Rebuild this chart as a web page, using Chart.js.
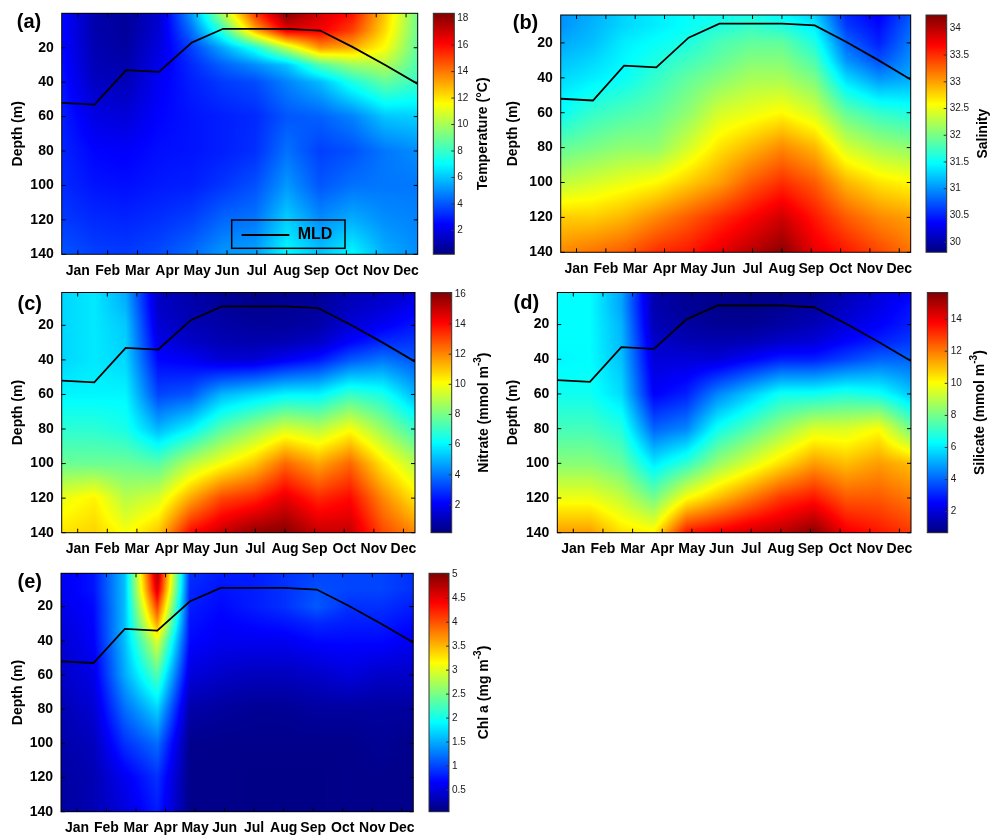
<!DOCTYPE html>
<html>
<head>
<meta charset="utf-8">
<script src="https://cdn.jsdelivr.net/npm/chart.js@4.4.1/dist/chart.umd.min.js"></script>
<style>
  html, body { margin: 0; padding: 0; background: #fff; }
  body { width: 990px; height: 835px; position: relative; overflow: hidden; }
  canvas { position: absolute; }
</style>
</head>
<body>
<canvas id="panelA" width="495" height="280" style="left:0;top:0"></canvas>
<canvas id="panelB" width="495" height="280" style="left:495px;top:0"></canvas>
<canvas id="panelC" width="495" height="280" style="left:0;top:280px"></canvas>
<canvas id="panelD" width="495" height="280" style="left:495px;top:280px"></canvas>
<canvas id="panelE" width="495" height="275" style="left:0;top:560px"></canvas>
<script>
// sampling times (fractional month, 1 = Jan) and depths of the profiles
const sampleMonths = [0.46, 1.56, 2.62, 3.72, 4.82, 5.87, 6.95, 8.01, 9.12, 10.2, 11.3, 12.39];
const depthLevels = [1, 10, 20, 30, 40, 60, 80, 100, 120, 140];
const monthLabels = ['Jan', 'Feb', 'Mar', 'Apr', 'May', 'Jun', 'Jul', 'Aug', 'Sep', 'Oct', 'Nov', 'Dec'];
const monthTicks = [1, 2, 3, 4, 5, 6, 7, 8, 9, 10, 11, 12];
const depthTicks = [20, 40, 60, 80, 100, 120, 140];

// mixed layer depth (m) at each sampling time
const mldDepth = [52, 53, 33, 34, 17, 9, 9, 9, 10, 19.5, 30, 41];

// one row per sampling time, values at depthLevels
const temperature = [
  [2.6, 2.6, 2.6, 2.7, 2.8, 3.0, 3.1, 3.2, 3.5, 4.0],
  [1.0, 1.0, 1.1, 1.2, 1.4, 2.0, 2.5, 2.8, 3.2, 3.6],
  [0.7, 0.7, 0.8, 1.0, 1.2, 1.8, 2.4, 2.7, 3.1, 3.5],
  [1.6, 1.7, 1.9, 2.1, 2.3, 2.5, 2.7, 2.9, 3.3, 3.8],
  [5.2, 4.5, 3.6, 3.2, 3.0, 2.8, 2.8, 3.0, 3.6, 4.4],
  [10.0, 8.0, 5.5, 4.2, 3.5, 3.0, 3.0, 3.4, 4.3, 5.2],
  [15.0, 13.0, 7.5, 5.0, 3.8, 3.2, 3.3, 3.9, 4.6, 5.4],
  [18.2, 16.5, 10.5, 6.0, 4.8, 4.0, 4.5, 5.2, 6.2, 7.0],
  [16.8, 16.3, 13.5, 8.5, 5.8, 4.2, 3.6, 4.0, 5.0, 6.0],
  [15.8, 15.0, 13.0, 9.8, 7.5, 4.8, 3.9, 4.5, 5.6, 7.0],
  [12.5, 12.2, 11.5, 10.2, 8.8, 6.0, 4.6, 4.6, 5.0, 5.6],
  [9.0, 8.9, 8.7, 8.4, 8.0, 6.2, 5.0, 4.6, 4.8, 5.0]
];
const salinity = [
  [31.0, 31.0, 31.1, 31.2, 31.3, 31.5, 31.9, 32.3, 32.8, 33.1],
  [31.1, 31.15, 31.2, 31.3, 31.4, 31.7, 32.0, 32.4, 32.8, 33.2],
  [31.3, 31.3, 31.4, 31.45, 31.5, 31.8, 32.1, 32.5, 32.9, 33.3],
  [31.4, 31.4, 31.5, 31.6, 31.7, 31.9, 32.1, 32.6, 33.1, 33.5],
  [31.5, 31.5, 31.6, 31.75, 31.9, 32.1, 32.4, 32.8, 33.3, 33.6],
  [31.5, 31.6, 31.8, 31.9, 32.05, 32.4, 32.7, 33.0, 33.5, 33.8],
  [31.5, 31.7, 31.9, 32.05, 32.2, 32.5, 32.9, 33.3, 33.7, 34.0],
  [31.4, 31.6, 31.9, 32.05, 32.2, 32.6, 33.1, 33.5, 33.9, 34.2],
  [31.2, 31.4, 31.6, 31.8, 32.0, 32.4, 32.9, 33.3, 33.6, 33.8],
  [30.5, 30.6, 30.8, 31.0, 31.3, 31.9, 32.4, 32.9, 33.3, 33.6],
  [30.3, 30.4, 30.5, 30.7, 31.0, 31.7, 32.2, 32.7, 33.1, 33.4],
  [30.7, 30.8, 30.9, 31.0, 31.1, 31.6, 32.1, 32.6, 33.0, 33.2]
];
const nitrate = [
  [5.5, 5.5, 5.5, 5.5, 5.5, 6.0, 6.8, 7.8, 9.8, 10.5],
  [5.8, 5.8, 5.8, 5.8, 5.8, 6.0, 6.8, 7.8, 10.3, 10.8],
  [4.8, 5.0, 5.3, 5.4, 5.5, 6.0, 6.5, 7.8, 9.0, 10.0],
  [1.2, 1.3, 1.5, 1.8, 2.2, 3.2, 5.0, 7.5, 9.5, 11.0],
  [0.8, 0.9, 1.0, 1.3, 2.0, 3.5, 6.0, 9.0, 11.5, 14.0],
  [0.5, 0.6, 0.8, 1.0, 1.5, 5.0, 7.5, 10.0, 13.0, 15.0],
  [0.3, 0.4, 0.6, 0.9, 1.5, 5.5, 8.5, 11.0, 13.5, 15.8],
  [0.4, 0.5, 0.6, 1.0, 2.0, 6.0, 9.5, 12.5, 14.5, 16.0],
  [0.5, 0.6, 0.8, 1.3, 2.5, 6.0, 9.0, 11.5, 13.5, 15.0],
  [1.0, 1.2, 1.5, 2.2, 3.5, 7.0, 10.0, 12.5, 14.0, 15.0],
  [1.2, 1.5, 2.0, 2.8, 4.0, 6.5, 8.5, 10.5, 12.0, 13.0],
  [1.5, 2.0, 2.5, 3.0, 3.5, 5.0, 7.0, 9.0, 10.5, 12.0]
];
const silicate = [
  [6.3, 6.3, 6.3, 6.3, 6.2, 6.5, 7.3, 8.3, 9.8, 11.5],
  [6.3, 6.3, 6.3, 6.3, 6.3, 6.5, 7.3, 8.3, 9.8, 11.5],
  [5.0, 5.0, 5.2, 5.3, 5.4, 5.8, 6.8, 7.8, 9.2, 10.5],
  [1.3, 1.4, 1.5, 1.8, 2.0, 2.5, 4.0, 6.0, 8.0, 10.2],
  [1.0, 1.0, 1.2, 1.5, 2.0, 3.0, 4.5, 7.0, 10.0, 13.5],
  [0.9, 0.9, 1.0, 1.4, 2.0, 4.5, 6.5, 8.5, 11.0, 14.0],
  [0.8, 0.8, 1.0, 1.5, 2.5, 5.5, 7.5, 9.5, 12.0, 14.5],
  [0.9, 1.0, 1.2, 1.8, 3.0, 6.5, 8.5, 10.5, 13.0, 14.8],
  [1.0, 1.2, 1.5, 2.0, 3.0, 6.5, 9.5, 11.5, 13.5, 15.5],
  [1.5, 1.7, 2.0, 2.6, 3.5, 6.8, 9.5, 11.0, 12.5, 14.0],
  [2.0, 2.2, 2.5, 3.0, 4.0, 6.5, 10.0, 11.5, 12.5, 13.5],
  [2.5, 2.8, 3.0, 3.4, 4.0, 5.5, 8.0, 11.0, 12.0, 13.0]
];
const chla = [
  [0.6, 0.6, 0.55, 0.5, 0.45, 0.4, 0.3, 0.25, 0.2, 0.2],
  [0.75, 0.75, 0.7, 0.68, 0.65, 0.55, 0.45, 0.35, 0.3, 0.3],
  [1.6, 1.6, 1.6, 1.6, 1.6, 1.5, 1.2, 0.9, 0.6, 0.5],
  [4.8, 4.6, 4.1, 3.6, 3.0, 2.3, 1.7, 1.2, 0.9, 0.8],
  [0.9, 0.85, 0.8, 0.75, 0.7, 0.5, 0.25, 0.12, 0.1, 0.1],
  [0.8, 0.75, 0.7, 0.65, 0.6, 0.4, 0.2, 0.1, 0.1, 0.1],
  [0.8, 0.8, 0.8, 0.7, 0.6, 0.35, 0.15, 0.1, 0.08, 0.08],
  [0.9, 0.9, 0.9, 0.75, 0.6, 0.35, 0.15, 0.1, 0.08, 0.08],
  [1.0, 1.05, 1.1, 0.85, 0.7, 0.4, 0.2, 0.1, 0.08, 0.08],
  [1.0, 1.0, 0.9, 0.8, 0.7, 0.5, 0.2, 0.1, 0.1, 0.1],
  [1.0, 1.0, 0.9, 0.8, 0.7, 0.4, 0.2, 0.15, 0.1, 0.1],
  [0.9, 0.9, 0.8, 0.7, 0.6, 0.4, 0.2, 0.1, 0.1, 0.1]
];

// colour bar ticks
const tempTicks = [2, 4, 6, 8, 10, 12, 14, 16, 18];
const salTicks = [30, 30.5, 31, 31.5, 32, 32.5, 33, 33.5, 34];
const nitTicks = [2, 4, 6, 8, 10, 12, 14, 16];
const silTicks = [2, 4, 6, 8, 10, 12, 14];
const chlTicks = [0.5, 1, 1.5, 2, 2.5, 3, 3.5, 4, 4.5, 5];

const FONT = '"Liberation Sans", Arial, Helvetica, sans-serif';
Chart.defaults.font.family = FONT;

function clamp01(v) { return v < 0 ? 0 : (v > 1 ? 1 : v); }

// MATLAB jet colormap
function jet(f) {
  f = clamp01(f);
  return [
    Math.round(255 * clamp01(Math.min(4 * f - 1.5, -4 * f + 4.5))),
    Math.round(255 * clamp01(Math.min(4 * f - 0.5, -4 * f + 3.5))),
    Math.round(255 * clamp01(Math.min(4 * f + 0.5, -4 * f + 2.5)))
  ];
}

function sampleGrid(grid, m, d) {
  let i = 0;
  while (i < sampleMonths.length - 2 && m > sampleMonths[i + 1]) i++;
  let j = 0;
  while (j < depthLevels.length - 2 && d > depthLevels[j + 1]) j++;
  const tx = clamp01((m - sampleMonths[i]) / (sampleMonths[i + 1] - sampleMonths[i]));
  const ty = clamp01((d - depthLevels[j]) / (depthLevels[j + 1] - depthLevels[j]));
  const top = grid[i][j] * (1 - tx) + grid[i + 1][j] * tx;
  const bot = grid[i][j + 1] * (1 - tx) + grid[i + 1][j + 1] * tx;
  return top * (1 - ty) + bot * ty;
}

function panelPlugin(p) {
  return {
    id: 'panel' + p.letter,
    beforeDatasetsDraw(chart) {
      const { ctx, chartArea: a, scales } = chart;
      const x0 = Math.round(a.left), y0 = Math.round(a.top);
      const w = Math.round(a.right) - x0, h = Math.round(a.bottom) - y0;
      const off = document.createElement('canvas');
      off.width = w; off.height = h;
      const octx = off.getContext('2d');
      const img = octx.createImageData(w, h);
      const ms = [], ds = [];
      for (let i = 0; i < w; i++) ms.push(scales.x.getValueForPixel(x0 + i + 0.5));
      for (let j = 0; j < h; j++) ds.push(scales.y.getValueForPixel(y0 + j + 0.5));
      for (let j = 0; j < h; j++) {
        for (let i = 0; i < w; i++) {
          const v = sampleGrid(p.grid, ms[i], ds[j]);
          const c = jet((v - p.cbMin) / (p.cbMax - p.cbMin));
          const k = (j * w + i) * 4;
          img.data[k] = c[0]; img.data[k + 1] = c[1]; img.data[k + 2] = c[2]; img.data[k + 3] = 255;
        }
      }
      octx.putImageData(img, 0, 0);
      ctx.drawImage(off, x0, y0);

      // colour bar
      const cb = scales.cb;
      const bx = a.right + p.cbGap;
      for (let py = Math.round(cb.top); py < Math.round(cb.bottom); py++) {
        const v = cb.getValueForPixel(py + 0.5);
        const c = jet((v - p.cbMin) / (p.cbMax - p.cbMin));
        ctx.fillStyle = 'rgb(' + c.join(',') + ')';
        ctx.fillRect(bx, py, p.cbWidth, 1);
      }
    },
    afterDatasetsDraw(chart) {
      const { ctx, chartArea: a, scales } = chart;
      ctx.save();
      ctx.strokeStyle = '#000';
      ctx.lineWidth = 1;
      ctx.strokeRect(a.left, a.top, a.right - a.left, a.bottom - a.top);
      ctx.beginPath();
      scales.x.ticks.forEach(t => {
        const px = scales.x.getPixelForValue(t.value);
        ctx.moveTo(px, a.bottom); ctx.lineTo(px, a.bottom - 4);
        ctx.moveTo(px, a.top); ctx.lineTo(px, a.top + 4);
      });
      scales.y.ticks.forEach(t => {
        const py = scales.y.getPixelForValue(t.value);
        ctx.moveTo(a.left, py); ctx.lineTo(a.left + 4, py);
        ctx.moveTo(a.right, py); ctx.lineTo(a.right - 4, py);
      });
      ctx.stroke();

      // colour bar frame and ticks
      const cb = scales.cb;
      const bx = a.right + p.cbGap;
      ctx.strokeStyle = '#333';
      ctx.strokeRect(bx, cb.top, p.cbWidth, cb.bottom - cb.top);
      ctx.beginPath();
      cb.ticks.forEach(t => {
        const py = cb.getPixelForValue(t.value);
        ctx.moveTo(bx + p.cbWidth, py); ctx.lineTo(bx + p.cbWidth - 3, py);
      });
      ctx.stroke();

      // colour bar label, rotated, with optional superscript
      ctx.fillStyle = '#000';
      ctx.translate(a.right + p.cbLabelDx, (cb.top + cb.bottom) / 2);
      ctx.rotate(-Math.PI / 2);
      ctx.textBaseline = 'middle';
      ctx.textAlign = 'left';
      let total = 0;
      p.label.forEach(part => {
        ctx.font = 'bold ' + part[1] + 'px ' + FONT;
        total += ctx.measureText(part[0]).width;
      });
      let tx = -total / 2;
      p.label.forEach(part => {
        ctx.font = 'bold ' + part[1] + 'px ' + FONT;
        ctx.fillText(part[0], tx, part[2] || 0);
        tx += ctx.measureText(part[0]).width;
      });
      ctx.restore();

      // panel letter
      ctx.save();
      ctx.fillStyle = '#000';
      ctx.font = 'bold 20px ' + FONT;
      ctx.textAlign = 'center';
      ctx.textBaseline = 'middle';
      ctx.fillText(p.letter, p.letterX, p.letterY);

      if (p.legend) {
        const lx = a.left + 170, ly = a.bottom - 34.3;
        ctx.strokeStyle = '#000';
        ctx.lineWidth = 1.5;
        ctx.strokeRect(lx, ly, 113.3, 28.3);
        ctx.lineWidth = 1.8;
        ctx.beginPath();
        ctx.moveTo(lx + 10, ly + 15); ctx.lineTo(lx + 57.6, ly + 15);
        ctx.stroke();
        ctx.font = 'bold 16px ' + FONT;
        ctx.textAlign = 'left';
        ctx.fillText('MLD', lx + 66, ly + 15);
      }
      ctx.restore();
    }
  };
}

function makePanel(p) {
  const canvas = document.getElementById(p.canvas);
  const cw = canvas.width, chH = canvas.height;
  const noPad = s => { s.paddingTop = 0; s.paddingBottom = 0; s.paddingLeft = 0; s.paddingRight = 0; };
  new Chart(canvas, {
    type: 'line',
    data: {
      datasets: [{
        data: sampleMonths.map((m, i) => ({ x: m, y: mldDepth[i] })),
        borderColor: '#000',
        borderWidth: 1.8,
        pointRadius: 0,
        fill: false,
        tension: 0
      }]
    },
    options: {
      responsive: false,
      animation: false,
      events: [],
      layout: { padding: { top: p.top, left: 0, right: 0, bottom: 0 } },
      plugins: { legend: { display: false }, tooltip: { enabled: false } },
      scales: {
        x: {
          type: 'linear',
          position: 'bottom',
          min: sampleMonths[0],
          max: sampleMonths[sampleMonths.length - 1],
          grid: { display: false, drawTicks: false },
          border: { display: false },
          afterBuildTicks: s => { s.ticks = monthTicks.map(v => ({ value: v })); },
          afterFit: s => { s.height = chH - p.bottom; noPad(s); },
          ticks: {
            autoSkip: false, maxRotation: 0, minRotation: 0, padding: 8,
            color: '#000', font: { size: 14, weight: 'bold' },
            callback: v => monthLabels[Math.round(v) - 1]
          }
        },
        y: {
          type: 'linear',
          position: 'left',
          reverse: true,
          min: p.yMin,
          max: 140,
          grid: { display: false, drawTicks: false },
          border: { display: false },
          afterBuildTicks: s => { s.ticks = depthTicks.map(v => ({ value: v })); },
          afterFit: s => { s.width = p.left; noPad(s); },
          ticks: { padding: 8, color: '#000', font: { size: 14, weight: 'bold' }, callback: v => String(v) },
          title: { display: true, text: 'Depth (m)', color: '#000', font: { size: 14, weight: 'bold' }, padding: { top: 10, bottom: 0 } }
        },
        cb: {
          type: 'linear',
          position: 'right',
          min: p.cbMin,
          max: p.cbMax,
          grid: { display: false, drawTicks: false },
          border: { display: false },
          afterBuildTicks: s => { s.ticks = p.cbTicks.map(v => ({ value: v })); },
          afterFit: s => { s.width = cw - p.right; noPad(s); },
          ticks: { padding: p.cbGap + p.cbWidth + 3, color: '#1a1a1a', font: { size: 10 }, callback: v => String(v) }
        }
      }
    },
    plugins: [panelPlugin(p)]
  });
}

makePanel({ canvas: 'panelA', letter: '(a)', letterX: 29, letterY: 22, left: 61.7, right: 417.7, top: 13.3, bottom: 254.3,
  yMin: 0, grid: temperature, cbMin: 0.2, cbMax: 18.4, cbTicks: tempTicks, cbGap: 15.6, cbWidth: 21, cbLabelDx: 65.8,
  label: [['Temperature (°C)', 14]], legend: true });
makePanel({ canvas: 'panelB', letter: '(b)', letterX: 30.5, letterY: 23.3, left: 65.7, right: 415.7, top: 15, bottom: 252.3,
  yMin: 4, grid: salinity, cbMin: 29.81, cbMax: 34.25, cbTicks: salTicks, cbGap: 15.3, cbWidth: 20.7, cbLabelDx: 72.6,
  label: [['Salinity', 14]] });
makePanel({ canvas: 'panelC', letter: '(c)', letterX: 29.7, letterY: 24.2, left: 61.7, right: 415, top: 12.5, bottom: 252.7,
  yMin: 1, grid: nitrate, cbMin: 0.16, cbMax: 16.09, cbTicks: nitTicks, cbGap: 16, cbWidth: 20.7, cbLabelDx: 69,
  label: [['Nitrate (mmol m', 14], ['-3', 10, -6], [')', 14]] });
makePanel({ canvas: 'panelD', letter: '(d)', letterX: 31.3, letterY: 23.3, left: 62.3, right: 416, top: 12.5, bottom: 252.7,
  yMin: 1.5, grid: silicate, cbMin: 0.69, cbMax: 15.66, cbTicks: silTicks, cbGap: 16.3, cbWidth: 20.4, cbLabelDx: 69,
  label: [['Silicate (mmol m', 14], ['-3', 10, -6], [')', 14]] });
makePanel({ canvas: 'panelE', letter: '(e)', letterX: 29.7, letterY: 22.5, left: 61, right: 413.3, top: 13.3, bottom: 251.7,
  yMin: 0.5, grid: chla, cbMin: 0.047, cbMax: 5.02, cbTicks: chlTicks, cbGap: 15.7, cbWidth: 20, cbLabelDx: 70.7,
  label: [['Chl a (mg m', 14], ['-3', 10, -6], [')', 14]] });
</script>
</body>
</html>
